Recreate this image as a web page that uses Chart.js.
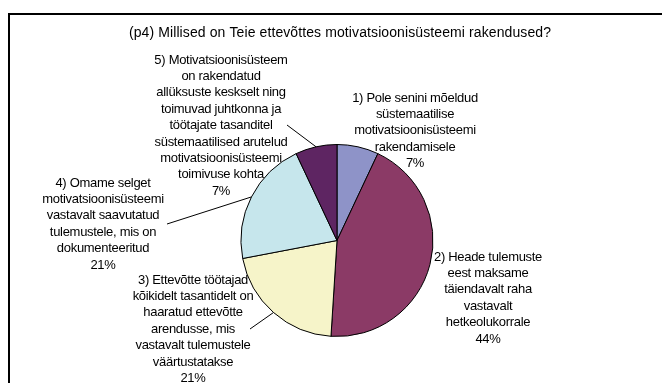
<!DOCTYPE html>
<html>
<head>
<meta charset="utf-8">
<script src="https://cdn.jsdelivr.net/npm/chart.js@4.4.1/dist/chart.umd.min.js"></script>
<style>
  html, body { margin: 0; padding: 0; background: #fff; }
  #wrap { width: 662px; height: 383px; }
</style>
</head>
<body>
<div id="wrap"><canvas id="pieChart" width="662" height="383"></canvas></div>
<script>
// chart data
const chartTitle = '(p4) Millised on Teie ettevõttes motivatsioonisüsteemi rakendused?';
const categories = [
  '1) Pole senini mõeldud süstemaatilise motivatsioonisüsteemi rakendamisele',
  '2) Heade tulemuste eest maksame täiendavalt raha vastavalt hetkeolukorrale',
  '3) Ettevõtte töötajad kõikidelt tasantidelt on haaratud ettevõtte arendusse, mis vastavalt tulemustele väärtustatakse',
  '4) Omame selget motivatsioonisüsteemi vastavalt saavutatud tulemustele, mis on dokumenteeritud',
  '5) Motivatsioonisüsteem on rakendatud allüksuste keskselt ning toimuvad juhtkonna ja töötajate tasanditel süstemaatilised arutelud motivatsioonisüsteemi toimivuse kohta'
];
const shares = [7, 44, 21, 21, 7];
// label text as wrapped in the original
const labelLines = [
  ['1) Pole senini mõeldud', 'süstemaatilise', 'motivatsioonisüsteemi', 'rakendamisele'],
  ['2) Heade tulemuste', 'eest maksame', 'täiendavalt raha', 'vastavalt', 'hetkeolukorrale'],
  ['3) Ettevõtte töötajad', 'kõikidelt tasantidelt on', 'haaratud ettevõtte', 'arendusse, mis', 'vastavalt tulemustele', 'väärtustatakse'],
  ['4) Omame selget', 'motivatsioonisüsteemi', 'vastavalt saavutatud', 'tulemustele, mis on', 'dokumenteeritud'],
  ['5) Motivatsioonisüsteem', 'on rakendatud', 'allüksuste keskselt ning', 'toimuvad juhtkonna ja', 'töötajate tasanditel', 'süstemaatilised arutelud', 'motivatsioonisüsteemi', 'toimivuse kohta']
];
const sliceColors = ['#8E93C8', '#8B3A66', '#F6F4C9', '#C6E6EC', '#5E2562'];

// label placement: block centre x, first line y, leader start (or null)
const labelLayout = [
  { x: 415, y: 98, leader: null },
  { x: 488, y: 257, leader: null },
  { x: 193, y: 280, leader: [250, 329] },
  { x: 103, y: 183, leader: [167, 224] },
  { x: 221, y: 60, leader: [287, 125] }
];

const FONT = 'Arial, "Liberation Sans", sans-serif';

const decorPlugin = {
  id: 'decor',
  beforeDraw(chart) {
    const ctx = chart.ctx;
    ctx.save();
    ctx.fillStyle = '#fff';
    ctx.fillRect(0, 0, chart.width, chart.height);
    ctx.strokeStyle = '#000';
    ctx.lineWidth = 2;
    ctx.strokeRect(9, 14, 720, 420);
    ctx.restore();
  },
  afterDraw(chart) {
    const ctx = chart.ctx;
    const arcs = chart.getDatasetMeta(0).data;
    ctx.save();
    ctx.fillStyle = '#000';
    ctx.textAlign = 'center';
    ctx.textBaseline = 'middle';
    ctx.letterSpacing = '0.1px';
    ctx.font = '14px ' + FONT;
    ctx.fillText(chartTitle, 340, 33);

    ctx.font = '13px ' + FONT;
    ctx.letterSpacing = '-0.3px';
    const lh = 16.4;
    labelLines.forEach((lines, i) => {
      const lay = labelLayout[i];
      const all = lines.concat([shares[i] + '%']);
      all.forEach((t, j) => ctx.fillText(t, lay.x, lay.y + j * lh));

      if (lay.leader) {
        const a = arcs[i];
        const mid = (a.startAngle + a.endAngle) / 2;
        const ex = a.x + Math.cos(mid) * a.outerRadius;
        const ey = a.y + Math.sin(mid) * a.outerRadius;
        ctx.strokeStyle = '#000';
        ctx.lineWidth = 1;
        ctx.beginPath();
        ctx.moveTo(lay.leader[0], lay.leader[1]);
        ctx.lineTo(ex, ey);
        ctx.stroke();
      }
    });
    ctx.restore();
  }
};

new Chart(document.getElementById('pieChart'), {
  type: 'pie',
  data: {
    labels: categories,
    datasets: [{
      data: shares,
      backgroundColor: sliceColors,
      borderColor: '#000',
      borderWidth: 1,
      radius: 96
    }]
  },
  options: {
    responsive: false,
    animation: false,
    layout: { padding: { top: 144, bottom: 46, left: 187, right: 175 } },
    plugins: {
      legend: { display: false },
      title: { display: false },
      tooltip: { enabled: false }
    }
  },
  plugins: [decorPlugin]
});
</script>
</body>
</html>
